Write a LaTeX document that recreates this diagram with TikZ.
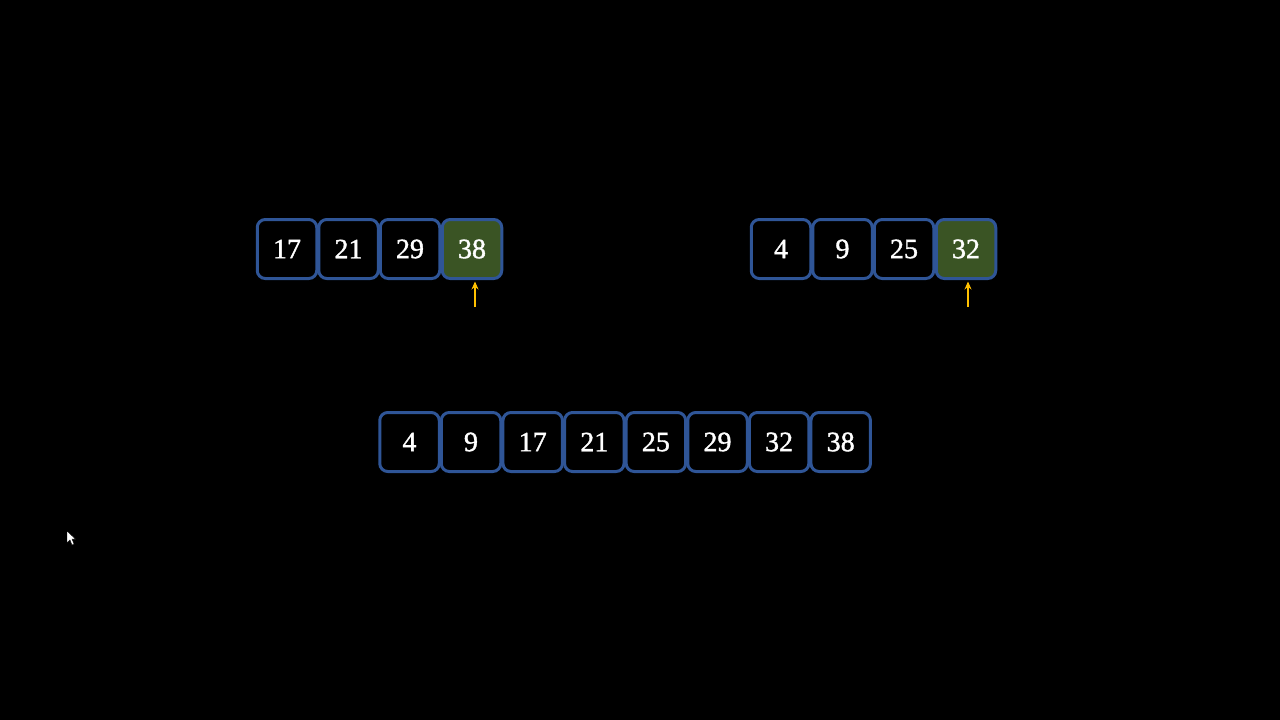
\documentclass[tikz,border=0pt]{standalone}
\usepackage{fontspec}
\setmainfont{Liberation Serif}[BoldFont={Liberation Serif}, BoldFeatures={FakeBold=1.3}]
\definecolor{boxblue}{HTML}{2F5597}
\definecolor{boxgreen}{HTML}{3A5424}
\definecolor{arrowgold}{HTML}{FFC000}
\usetikzlibrary{arrows.meta}
\tikzset{
  cell/.style={draw=boxblue, line width=3pt, rounded corners=8pt, minimum width=59.5pt, minimum height=59pt, inner sep=0pt, text=white, font=\fontsize{28}{30}\selectfont\bfseries},
  hot/.style={cell, fill=boxgreen},
  ptr/.style={draw=arrowgold, line width=1.8pt, -{Stealth[length=8pt,width=7pt]}}
}
\begin{document}
\begin{tikzpicture}[x=1pt,y=-1pt]
\fill[black] (0,0) rectangle (1280,720);
\useasboundingbox (0,0) rectangle (1280,720);
% left array
\node[cell] (a1) at (287,249) {17};
\node[cell] (a2) at (348.5,249) {21};
\node[cell] (a3) at (410,249) {29};
\node[hot]  (a4) at (472,249) {38};
% right array
\node[cell] (b1) at (781,249) {4};
\node[cell] (b2) at (842.5,249) {9};
\node[cell] (b3) at (904,249) {25};
\node[hot]  (b4) at (966,249) {32};
% merged array
\node[cell] (c1) at (409.5,442) {4};
\node[cell] (c2) at (471,442) {9};
\node[cell] (c3) at (532.7,442) {17};
\node[cell] (c4) at (594.3,442) {21};
\node[cell] (c5) at (655.9,442) {25};
\node[cell] (c6) at (717.5,442) {29};
\node[cell] (c7) at (779.1,442) {32};
\node[cell] (c8) at (840.7,442) {38};
% pointers
\coordinate (pa) at (475,307);
\coordinate (pb) at (968,307);
\draw[ptr] (pa) -- ([yshift=-1.5pt]pa |- a4.south);
\draw[ptr] (pb) -- ([yshift=-1.5pt]pb |- b4.south);
% mouse cursor
\fill[white, draw=black, line width=0.4pt] (67,531) -- (67,543) -- (70,540) -- (72,545) -- (74,544) -- (72,539) -- (75.5,539) -- cycle;
\end{tikzpicture}
\end{document}
